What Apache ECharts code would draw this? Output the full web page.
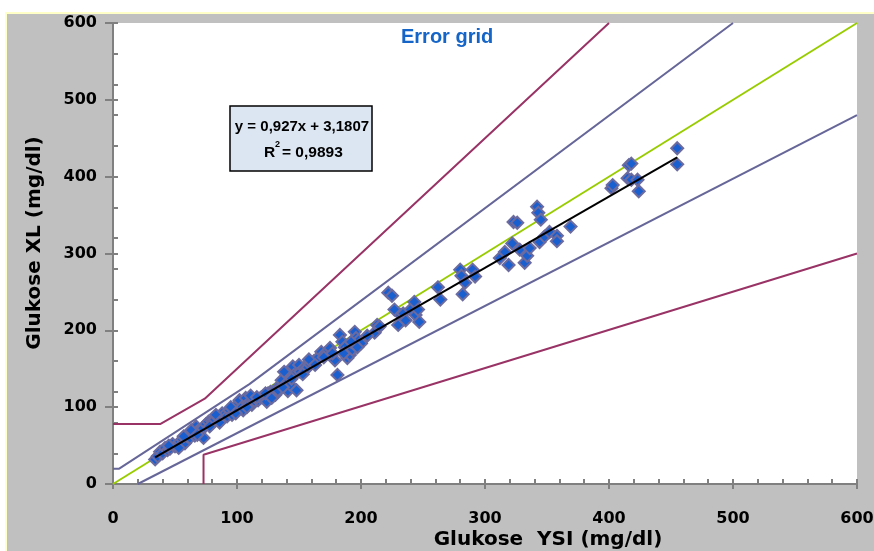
<!DOCTYPE html>
<html>
<head>
<meta charset="utf-8">
<script src="https://cdn.jsdelivr.net/npm/echarts/dist/echarts.min.js"></script>
<style>
  html, body { margin: 0; padding: 0; background: #fff; }
  #chart { width: 874px; height: 551px; }
</style>
</head>
<body>
<div id="chart"></div>
<script>
// Glukose YSI (x) / Glukose XL (y), mg/dl
const ysi = [
  34, 36, 38, 40, 42, 44, 46, 48, 50, 52, 54, 56, 58, 60, 62, 64, 66, 67, 69, 70,
  72, 73, 75, 77, 80, 82, 85, 88, 90, 92, 94, 96, 98, 100, 102, 104, 105, 107, 109, 112,
  114, 117, 119, 121, 124, 125, 127, 129, 131, 134, 136, 138, 140, 141, 143, 145, 146, 148, 150, 151,
  154, 156, 159, 162, 165, 168, 171, 175, 179, 181, 183, 185, 187, 189, 191, 193, 195, 196, 198, 200,
  211, 213, 222, 225, 227, 230, 232, 234, 236, 240, 243, 244, 246, 247, 262, 264, 280, 281, 282, 284,
  290, 292, 312, 316, 319, 322, 323, 326, 328, 332, 334, 336, 342, 343, 345, 344, 348, 352, 358, 358,
  369, 402, 403, 415, 416, 418, 418, 423, 424, 455, 455,
  45, 53, 57, 63, 68, 78, 83, 86, 95, 99, 108, 111, 116, 123, 128, 133, 137, 144, 153, 158,
  163, 170, 177, 186, 192, 197, 205, 215
];
const xl = [
  32, 36, 42, 40, 47, 44, 46, 52, 49, 51, 55, 58, 53, 62, 60, 66, 63, 75, 70, 68,
  72, 60, 78, 81, 82, 84, 86, 92, 90, 88, 96, 90, 97, 103, 109, 100, 96, 112, 105, 103,
  108, 109, 112, 114, 107, 118, 120, 120, 116, 128, 135, 146, 131, 121, 129, 153, 142, 122, 155, 146,
  151, 150, 156, 160, 164, 172, 170, 177, 161, 142, 194, 185, 178, 164, 168, 175, 198, 190, 187, 183,
  197, 207, 249, 245, 227, 207, 220, 222, 213, 227, 237, 220, 227, 211, 256, 240, 279, 271, 247, 262,
  279, 270, 294, 302, 285, 313, 341, 340, 305, 288, 297, 307, 361, 353, 344, 315, 322, 328, 323, 316,
  335, 385, 389, 398, 415, 417, 396, 396, 381, 437, 416,
  50, 47, 62, 70, 64, 75, 90, 80, 100, 92, 100, 115, 113, 118, 112, 122, 126, 137, 143, 162,
  155, 165, 170, 170, 185, 178, 193, 205
];

// error grid boundaries [ysi, xl]
const upperRed = [[0, 78], [38, 78], [74, 111], [400, 600]];
const upperBlue = [[0, 20], [5, 20], [110, 130], [500, 600]];
const identity = [[0, 0], [600, 600]];
const lowerBlue = [[20, 0], [600, 480]];
const lowerRed = [[73, 0], [73, 38], [600, 300]];

// trend line
const slope = 0.927;
const intercept = 3.1807;
const eqText = 'y = 0,927x + 3,1807';
const r2Text = '= 0,9893';

const points = ysi.map((x, i) => [x, xl[i]]);
const xMin = Math.min(...ysi);
const xMax = Math.max(...ysi);
const trend = [[xMin, slope * xMin + intercept], [xMax, slope * xMax + intercept]];

const chart = echarts.init(document.getElementById('chart'));

const gridBox = { left: 113, top: 23, right: 17, bottom: 67, outerBoundsMode: 'none', containLabel: false };
const axisGray = '#808080';
const labelFont = { color: '#000', fontFamily: 'DejaVu Sans', fontWeight: 'bold', fontSize: 16 };

const tickAxis = (gridIndex, interval, len) => ({
  gridIndex, type: 'value', min: 0, max: 600, interval,
  axisLine: { show: false },
  axisTick: { show: true, inside: true, length: len, lineStyle: { color: axisGray, width: 2 } },
  axisLabel: { show: false },
  splitLine: { show: false }
});

const lineSeries = (data, color, z) => ({
  type: 'line', data, xAxisIndex: 0, yAxisIndex: 0,
  showSymbol: false, symbol: 'none', silent: true, z,
  lineStyle: { color, width: 2 }
});

const option = {
  backgroundColor: '#fff',
  animation: false,
  title: {
    text: 'Error grid', left: 401, top: 27, padding: 0,
    textStyle: { color: '#1565c8', fontFamily: 'Liberation Sans', fontWeight: 'bold', fontSize: 20 }
  },
  grid: [
    Object.assign({ show: true, backgroundColor: '#fff', borderWidth: 0 }, gridBox),
    Object.assign({ show: false }, gridBox),
    Object.assign({ show: false }, gridBox)
  ],
  xAxis: [
    {
      gridIndex: 0, type: 'value', min: 0, max: 600, interval: 100,
      axisLine: { show: true, onZero: false, lineStyle: { color: axisGray, width: 2 } },
      axisTick: { show: true, inside: false, length: 5, lineStyle: { color: axisGray, width: 2 } },
      axisLabel: Object.assign({ margin: 27 }, labelFont),
      splitLine: { show: false }
    },
    tickAxis(1, 20, 5),
    Object.assign(tickAxis(2, 100, 5), { show: false })
  ],
  yAxis: [
    {
      gridIndex: 0, type: 'value', min: 0, max: 600, interval: 100,
      axisLine: { show: true, onZero: false, lineStyle: { color: axisGray, width: 2 } },
      axisTick: { show: true, inside: false, length: 8, lineStyle: { color: axisGray, width: 2 } },
      axisLabel: Object.assign({ margin: 16 }, labelFont),
      splitLine: { show: false }
    },
    tickAxis(1, 40, 5),
    tickAxis(2, 100, 5)
  ],
  graphic: [
    {
      type: 'rect', z: -10, silent: true,
      shape: { x: 6, y: 13, width: 880, height: 560 },
      style: { fill: '#c0c0c0', stroke: '#ffffc8', lineWidth: 2 }
    },
    {
      type: 'text', x: 35, y: 243, rotation: Math.PI / 2, silent: true,
      style: {
        text: 'Glukose XL (mg/dl)', fill: '#000', fontFamily: 'DejaVu Sans', fontWeight: 'bold', fontSize: 20,
        align: 'center', verticalAlign: 'middle'
      }
    },
    {
      type: 'text', x: 548, y: 540, silent: true,
      style: {
        text: 'Glukose  YSI (mg/dl)', fill: '#000', fontFamily: 'DejaVu Sans', fontWeight: 'bold', fontSize: 20,
        align: 'center', verticalAlign: 'middle'
      }
    },
    {
      type: 'group', z: 10,
      children: [
        {
          type: 'rect', shape: { x: 230, y: 106, width: 142, height: 65 },
          style: { fill: '#dce6f2', stroke: '#000', lineWidth: 1.5 }
        },
        {
          type: 'text', x: 302, y: 127,
          style: { text: eqText, fill: '#000', fontFamily: 'Liberation Sans', fontWeight: 'bold', fontSize: 15, align: 'center', verticalAlign: 'middle' }
        },
        {
          type: 'text', x: 264, y: 153,
          style: { text: 'R', fill: '#000', fontFamily: 'Liberation Sans', fontWeight: 'bold', fontSize: 15.5, align: 'left', verticalAlign: 'middle' }
        },
        {
          type: 'text', x: 275, y: 145,
          style: { text: '2', fill: '#000', fontFamily: 'Liberation Sans', fontWeight: 'bold', fontSize: 9, align: 'left', verticalAlign: 'middle' }
        },
        {
          type: 'text', x: 282, y: 153,
          style: { text: r2Text, fill: '#000', fontFamily: 'Liberation Sans', fontWeight: 'bold', fontSize: 15.5, align: 'left', verticalAlign: 'middle' }
        }
      ]
    }
  ],
  series: [
    lineSeries(upperRed, '#993366', 2),
    lineSeries(lowerRed, '#993366', 2),
    lineSeries(upperBlue, '#666699', 2),
    lineSeries(lowerBlue, '#666699', 2),
    lineSeries(identity, '#99cc00', 2),
    {
      type: 'scatter', data: points, xAxisIndex: 0, yAxisIndex: 0, z: 3,
      symbol: 'diamond', symbolSize: 12,
      itemStyle: { color: '#1a5fd0', borderColor: '#6b6ba0', borderWidth: 2, opacity: 1 }
    },
    lineSeries(trend, '#000', 4)
  ]
};

chart.setOption(option);
</script>
</body>
</html>
